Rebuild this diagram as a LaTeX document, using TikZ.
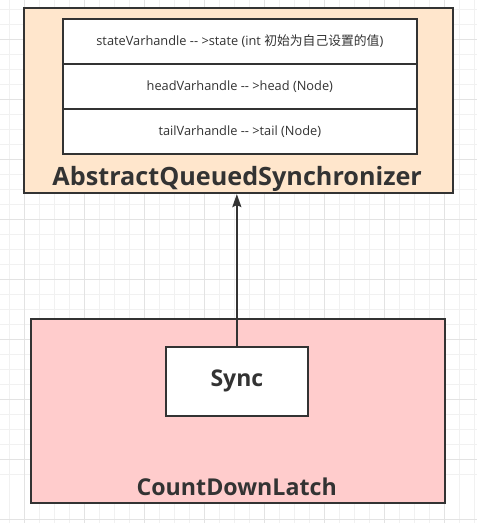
\documentclass[tikz,border=0pt]{standalone}
\usepackage{fontspec}
\setmainfont{Open Sans}
\newfontfamily\cjk{Noto Sans CJK SC}
\usetikzlibrary{arrows.meta,positioning}
\definecolor{qsline}{HTML}{333333}
\definecolor{qsorange}{HTML}{FFE6CC}
\definecolor{qspink}{HTML}{FFCCCC}
\definecolor{qsgrid}{HTML}{F1F1F1}
\definecolor{qsgridmajor}{HTML}{E3E3E3}
\tikzset{
  qsouter/.style={draw=qsline, line width=1.8pt, anchor=north west, inner sep=0pt},
  qsrow/.style={draw=qsline, line width=1.8pt, fill=white, minimum width=354.3pt, minimum height=45pt, inner sep=0pt, outer sep=0pt, text=qsline, font=\fontsize{12.8}{15}\selectfont},
  qstitle/.style={anchor=base, text=qsline, font=\fontsize{#1}{28}\selectfont\bfseries},
  qsarr/.style={-{Stealth[length=13pt, width=9pt, inset=2pt]}, line width=1.8pt, draw=qsline}
}
\begin{document}
\begin{tikzpicture}[x=1pt, y=-1pt]
  \useasboundingbox (0,0) rectangle (477,523);
  % grid in the background
  \foreach \k in {0,...,31} {
    \draw[qsgrid, line width=0.8pt] (9.3+15*\k,0) -- (9.3+15*\k,523);
    \draw[qsgrid, line width=0.8pt] (0,9.3+15*\k) -- (477,9.3+15*\k);
  }
  \foreach \k in {0,...,8} {
    \draw[qsgridmajor, line width=0.8pt] (24.3+60*\k,0) -- (24.3+60*\k,523);
    \draw[qsgridmajor, line width=0.8pt] (0,39.3+60*\k) -- (477,39.3+60*\k);
  }
  % AbstractQueuedSynchronizer
  \node[qsouter, fill=qsorange, minimum width=429pt, minimum height=185pt] (aqs) at (22.7,7.3) {};
  \node[qsrow, anchor=north] (state) at (239.85,19) {stateVarhandle -{}- >state (int {\cjk 初始为自己设置的值})};
  \node[qsrow, below=0pt of state] (head) {headVarhandle -{}- >head (Node)};
  \node[qsrow, below=0pt of head] (tail) {tailVarhandle -{}- >tail (Node)};
  \node[qstitle=25.2] (aqslabel) at (237.2,185) {AbstractQueuedSynchronizer};
  % CountDownLatch
  \node[qsouter, fill=qspink, minimum width=414pt, minimum height=184pt] (cdl) at (30,317.7) {};
  \node[qstitle=23.2] (cdllabel) at (236.7,495) {CountDownLatch};
  \node[draw=qsline, line width=1.8pt, fill=white, minimum width=142.3pt, minimum height=69.3pt, text=qsline, font=\fontsize{23}{27}\selectfont\bfseries] (sync) at (236.85,381.4) {Sync};
  \draw[qsarr] (sync.north) -- (sync.north |- aqs.south);
\end{tikzpicture}
\end{document}
